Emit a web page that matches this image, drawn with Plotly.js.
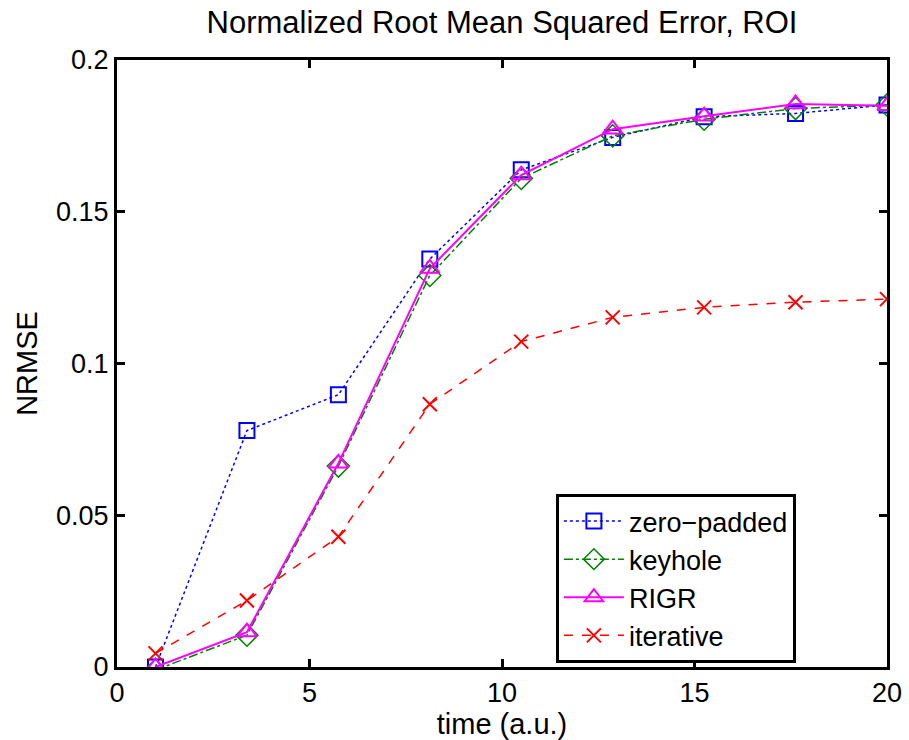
<!DOCTYPE html>
<html>
<head>
<meta charset="utf-8">
<script src="https://cdn.plot.ly/plotly-3.0.1.min.js"></script>
<style>html,body{margin:0;padding:0;background:#fff;}#chart{width:909px;height:740px;}</style>
</head>
<body>
<div id="chart"></div>
<script>
const timePoints = [1, 3.375, 5.75, 8.125, 10.5, 12.875, 15.25, 17.625, 20];
const zeroPadded = [0.0, 0.0779, 0.0897, 0.1344, 0.1638, 0.1745, 0.1813, 0.1824, 0.1852];
const keyhole    = [-0.001, 0.0105, 0.0662, 0.1290, 0.1610, 0.1750, 0.1805, 0.1840, 0.1852];
const rigr       = [0.0, 0.0115, 0.0671, 0.1313, 0.1621, 0.1772, 0.1815, 0.1855, 0.1849];
const iterative  = [0.0045, 0.0219, 0.0429, 0.0866, 0.1072, 0.1152, 0.1185, 0.1202, 0.1212];
const seriesNames = ['zero\u2212padded', 'keyhole', 'RIGR', 'iterative'];
const xTicks = [0, 5, 10, 15, 20];
const yTicks = [0, 0.05, 0.1, 0.15, 0.2];
const yTickLabels = ['0', '0.05', '0.1', '0.15', '0.2'];

const FONT = 'Liberation Sans, Arial, Helvetica, sans-serif';

const traces = [
  {x: timePoints, y: zeroPadded, name: seriesNames[0], mode: 'lines+markers',
   line: {color: '#0000ff', width: 1.5, dash: 'dot'},
   marker: {symbol: 'square-open', size: 15, color: '#0000ff', line: {width: 2, color: '#0000ff'}}},
  {x: timePoints, y: keyhole, name: seriesNames[1], mode: 'lines+markers',
   line: {color: '#008000', width: 1.5, dash: 'dashdot'},
   marker: {symbol: 'diamond-open', size: 17, color: '#008000', line: {width: 1.5, color: '#008000'}}},
  {x: timePoints, y: rigr, name: seriesNames[2], mode: 'lines+markers',
   line: {color: '#ff00ff', width: 2, dash: 'solid'},
   marker: {symbol: 'triangle-up-open', size: 17, color: '#ff00ff', line: {width: 2, color: '#ff00ff'}}},
  {x: timePoints, y: iterative, name: seriesNames[3], mode: 'lines+markers',
   line: {color: '#ff0000', width: 1.5, dash: 'dash'},
   marker: {symbol: 'x-thin-open', size: 14, color: '#ff0000', line: {width: 2, color: '#ff0000'}}}
];

const axisCommon = {
  showgrid: false, zeroline: false, showline: true, linecolor: '#000', linewidth: 3,
  mirror: 'ticks', ticks: 'inside', ticklen: 8, tickwidth: 3, tickcolor: '#000',
  tickfont: {family: FONT, size: 27, color: '#000'}
};

const layout = {
  width: 909, height: 740,
  margin: {l: 117, r: 22, t: 60, b: 73},
  paper_bgcolor: '#fff', plot_bgcolor: '#fff',
  title: {text: 'Normalized Root Mean Squared Error, ROI', font: {family: FONT, size: 31, color: '#000'},
          x: 0.5, xref: 'paper', xanchor: 'center', y: 0.97, yanchor: 'middle'},
  xaxis: Object.assign({}, axisCommon, {
    range: [0, 20], tickvals: xTicks, ticktext: xTicks.map(String),
    title: {text: 'time (a.u.)', font: {family: FONT, size: 29, color: '#000'}, standoff: 0}
  }),
  yaxis: Object.assign({}, axisCommon, {
    range: [0, 0.2], tickvals: yTicks, ticktext: yTickLabels,
    title: {text: 'NRMSE', font: {family: FONT, size: 29, color: '#000'}, standoff: 10}
  }),
  showlegend: true,
  legend: {x: 0.57, y: 0.285, xanchor: 'left', yanchor: 'top',
           bgcolor: '#fff', bordercolor: '#000', borderwidth: 3,
           font: {family: FONT, size: 27, color: '#000'}, itemwidth: 60, tracegroupgap: 0}
};

Plotly.newPlot('chart', traces, layout, {staticPlot: true, displayModeBar: false});
</script>
</body>
</html>
